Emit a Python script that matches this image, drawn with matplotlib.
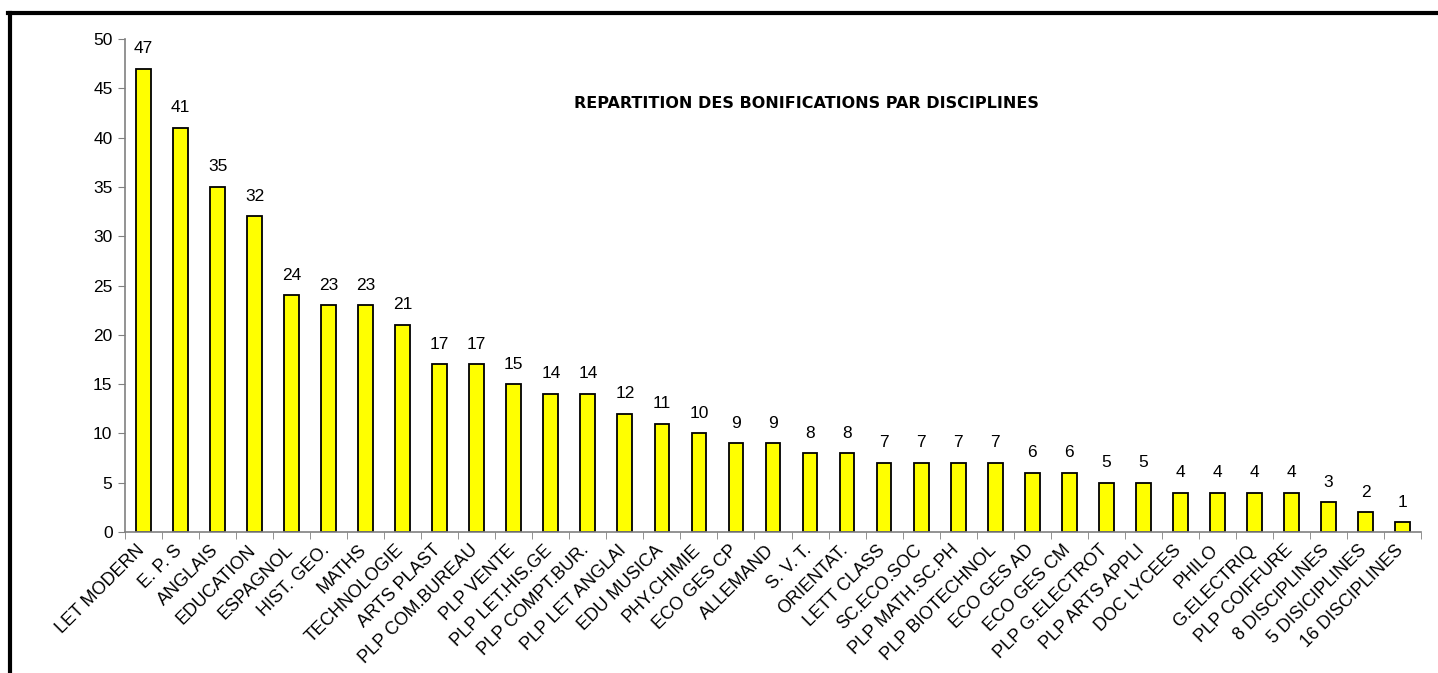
import numpy as np
import matplotlib.pyplot as plt
from matplotlib.lines import Line2D

plt.rcParams['font.family'] = ['Liberation Sans', 'DejaVu Sans']

disciplines = ["LET MODERN", "E. P. S", "ANGLAIS", "EDUCATION", "ESPAGNOL", "HIST. GEO.",
               "MATHS", "TECHNOLOGIE", "ARTS PLAST", "PLP COM.BUREAU", "PLP VENTE",
               "PLP LET.HIS.GE", "PLP COMPT.BUR.", "PLP LET ANGLAI", "EDU MUSICA",
               "PHY.CHIMIE", "ECO GES CP", "ALLEMAND", "S. V. T.", "ORIENTAT.",
               "LETT CLASS", "SC.ECO.SOC", "PLP MATH.SC.PH", "PLP BIOTECHNOL",
               "ECO GES AD", "ECO GES CM", "PLP G.ELECTROT", "PLP ARTS APPLI",
               "DOC LYCEES", "PHILO", "G.ELECTRIQ", "PLP COIFFURE", "8 DISCIPLINES",
               "5 DISICIPLINES", "16 DISCIPLINES"]
bonifications = [47, 41, 35, 32, 24, 23, 23, 21, 17, 17, 15, 14, 14, 12, 11, 10, 9, 9,
                 8, 8, 7, 7, 7, 7, 6, 6, 5, 5, 4, 4, 4, 4, 3, 2, 1]

fig = plt.figure(figsize=(14.38, 6.73), dpi=100)
ax = fig.add_axes([125/1438, 1 - 532/673, (1421-125)/1438, (532-39)/673])

x = np.arange(len(disciplines))
ax.bar(x, bonifications, width=0.4, color='#ffff00', edgecolor='black', linewidth=1.3)

for xi, v in zip(x, bonifications):
    ax.annotate(str(v), (xi, v), xytext=(0, 9), textcoords='offset points',
                ha='center', va='bottom', fontsize=12.5)

ax.set_xlim(-0.5, len(disciplines) - 0.5)
ax.set_ylim(0, 50)
ax.set_yticks(np.arange(0, 51, 5))
ax.set_xticks(x - 0.2)
ax.set_xticklabels(disciplines, rotation=45, ha='right', rotation_mode='anchor', fontsize=13)
ax.set_xticks(np.arange(-0.5, len(disciplines)), minor=True)
ax.tick_params(axis='x', which='major', length=0, pad=7)
ax.tick_params(axis='x', which='minor', length=5, color='#808080', direction='out')
ax.tick_params(axis='y', length=5, color='#808080', labelsize=12.5, pad=4)

for s in ['top', 'right']:
    ax.spines[s].set_visible(False)
for s in ['left', 'bottom']:
    ax.spines[s].set_color('#808080')
    ax.spines[s].set_linewidth(1.2)

ax.text(806/1438, 1 - 103/673, "REPARTITION DES BONIFICATIONS PAR DISCIPLINES",
        transform=fig.transFigure, ha='center', va='center', fontsize=11.5,
        fontweight='bold', family='DejaVu Sans')

# cadre noir (haut et gauche)
fig.add_artist(Line2D([8/1438, 1], [1 - 13/673, 1 - 13/673], transform=fig.transFigure,
                      color='black', linewidth=3))
fig.add_artist(Line2D([10/1438, 10/1438], [0, 1 - 13/673], transform=fig.transFigure,
                      color='black', linewidth=3))

fig.savefig('out.png', dpi=100, facecolor='white')
